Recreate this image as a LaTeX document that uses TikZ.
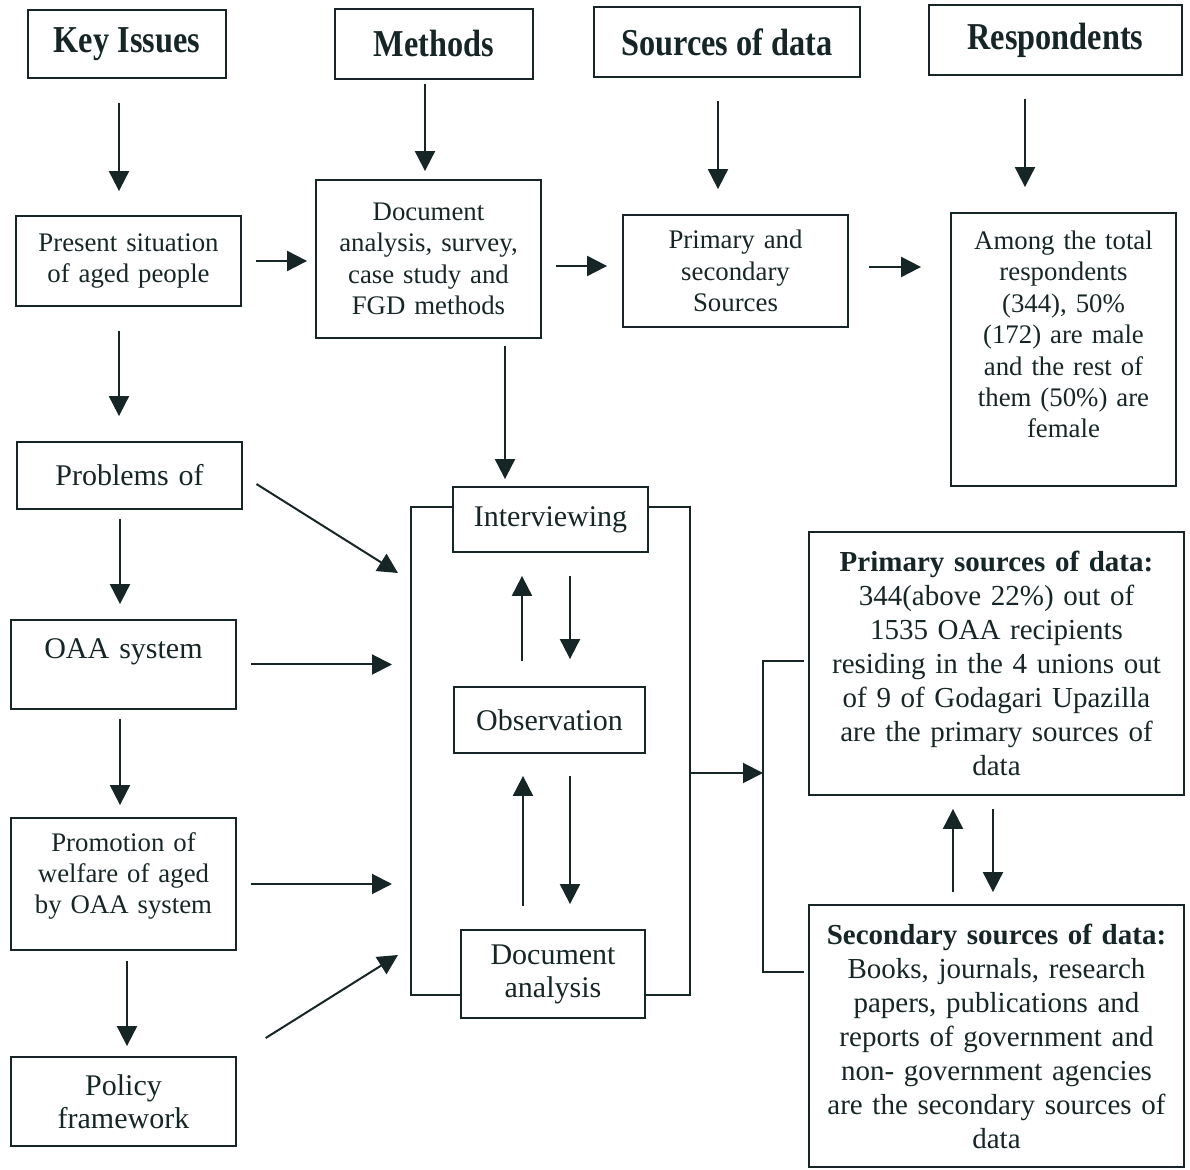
\documentclass[tikz,border=0pt]{standalone}
\usepackage{fontspec}
\setmainfont{Liberation Serif}
\newfontfamily\headfont[FakeStretch=0.85]{Liberation Serif}
\usepackage{xcolor}
\usepackage{tikz}
\usetikzlibrary{arrows.meta}
\definecolor{ink}{RGB}{22,38,38}
\newcommand{\smallbody}{\fontsize{13.4}{15.7}\selectfont}
\newcommand{\bigbody}{\fontsize{15}{16.5}\selectfont}
\newcommand{\sidebody}{\fontsize{14.5}{17}\selectfont}

\begin{document}
\begin{tikzpicture}[x=0.5pt, y=-0.5pt]
      \tikzstyle{block} = [rectangle, draw=ink, line width=0.9pt, text=ink, text centered, inner xsep=0pt, inner ysep=0pt, font=\smallbody]
      \tikzstyle{head} = [block, font=\headfont\bfseries\fontsize{19}{22}\selectfont]
      \tikzstyle{arrow} = [draw=ink, line width=1pt, -{Triangle[width=10pt,length=10pt]}]
      \tikzstyle{link} = [draw=ink, line width=0.9pt]
      \useasboundingbox (0,0) rectangle (1190,1170);
      % column heads
      \node[head, minimum width=99pt, minimum height=34pt] (key) at (127,44) {Key Issues};
      \node[head, minimum width=99pt, minimum height=35pt] (meth) at (434,44) {Methods};
      \node[head, minimum width=133pt, minimum height=35pt] (src) at (727,42) {Sources of data};
      \node[head, minimum width=126.5pt, minimum height=35pt] (resp) at (1055.5,40) {Respondents};
      % second row
      \node[block, text width=112.5pt, minimum height=45pt] (pres) at (128.5,261) {Present situation\\of aged people};
      \node[block, text width=112.5pt, minimum height=79pt] (docm) at (428.5,259) {Document\\analysis, survey,\\case study and\\FGD methods};
      \node[block, text width=112.5pt, minimum height=56pt] (prim) at (735.5,271) {Primary and\\secondary\\Sources};
      \node[block, text width=112.5pt, minimum height=136.5pt] (among) at (1063.5,349.5) {Among the total\\respondents\\(344), 50\%\\(172) are male\\and the rest of\\them (50\%) are\\female\par\vspace*{15pt}};
      % key issues column
      \node[block, font=\bigbody, text width=112.5pt, minimum height=33.5pt] (prob) at (129.5,475.5) {Problems of};
      \node[block, font=\bigbody, text width=112.5pt, minimum height=44.5pt] (oaa) at (123.5,664.5) {OAA system\par\vspace*{13pt}};
      \node[block, text width=112.5pt, minimum height=66pt] (prom) at (123.5,884) {Promotion of\\welfare of aged\\by OAA system\par\vspace*{8pt}};
      \node[block, font=\bigbody, text width=112.5pt, minimum height=44.5pt] (pol) at (123.5,1101.5) {Policy\\framework};
      % methods column
      \node[block, font=\bigbody, text width=97.5pt, minimum height=32.5pt] (intv) at (550.5,519.5) {Interviewing};
      \node[block, font=\bigbody, text width=95.5pt, minimum height=33pt] (obs) at (549.5,720) {Observation};
      \node[block, font=\bigbody, text width=92pt, minimum height=44pt] (doca) at (553,974) {Document\\analysis};
      % sources
      \node[block, font=\sidebody, text width=187.5pt, minimum height=131.5pt] (psrc) at (996.5,663.5) {\textbf{Primary sources of data:}\\344(above 22\%) out of\\1535 OAA recipients\\residing in the 4 unions out\\of 9 of Godagari Upazilla\\are the primary sources of\\data};
      \node[block, font=\sidebody, text width=187.5pt, minimum height=131pt] (ssrc) at (996.5,1036) {\textbf{Secondary sources of data:}\\Books, journals, research\\papers, publications and\\reports of government and\\non- government agencies\\are the secondary sources of\\data};
      % bracket points
      \coordinate (bl) at (411,0);
      \coordinate (br) at (690,0);
      \coordinate (il) at ([yshift=6.25pt]intv.west);
      \coordinate (ir) at ([yshift=6.25pt]intv.east);
      \coordinate (dl) at ([yshift=-10.5pt]doca.west);
      \coordinate (dr) at ([yshift=-10.5pt]doca.east);
      \coordinate (rb) at (763,773);
      \coordinate (pl) at ([shift={(-2pt,1.25pt)}]psrc.west);
      \coordinate (sl) at ([shift={(-2pt,32pt)}]ssrc.west);
      \coordinate (inA) at (398,573);
      \coordinate (inD) at (398,955);
      \draw[link] (il) -| (bl |- dl) -- (dl);
      \draw[link] (ir) -| (br |- dr) -- (dr);
      \draw[arrow] (br |- rb) -- (rb);
      \draw[link] (pl) -| (rb |- sl) -- (sl);
      % heads down
      \draw[arrow, shorten <=12pt, shorten >=12pt] ([xshift=-4pt]key.south) -- ([xshift=-4pt]key.south |- pres.north);
      \draw[arrow, shorten <=2pt, shorten >=4pt] ([xshift=-4.5pt]meth.south) -- ([xshift=-4.5pt]meth.south |- docm.north);
      \draw[arrow, shorten <=11.5pt, shorten >=12.5pt] ([xshift=-4.5pt]src.south) -- ([xshift=-4.5pt]src.south |- prim.north);
      \draw[arrow, shorten <=11.5pt, shorten >=12.5pt] ([xshift=-15.25pt]resp.south) -- ([xshift=-15.25pt]resp.south |- among.north);
      % across second row
      \draw[arrow, shorten <=7pt, shorten >=4pt] (pres.east) -- (pres.east -| docm.west);
      \draw[arrow, shorten <=7pt, shorten >=7.5pt] ([yshift=-3.5pt]docm.east) -- ([yshift=-3.5pt]docm.east -| prim.west);
      \draw[arrow, shorten <=10pt, shorten >=14.5pt] ([yshift=2pt]prim.east) -- ([yshift=2pt]prim.east -| among.west);
      % left column
      \draw[arrow, shorten <=12pt, shorten >=12.5pt] ([xshift=-4.75pt]pres.south) -- ([xshift=-4.75pt]pres.south |- prob.north);
      \draw[arrow, shorten <=4.5pt, shorten >=7.5pt] ([xshift=-4.75pt]prob.south) -- ([xshift=-4.75pt]prob.south |- oaa.north);
      \draw[arrow, shorten <=4.5pt, shorten >=6pt] ([xshift=-1.75pt]oaa.south) -- ([xshift=-1.75pt]oaa.south |- prom.north);
      \draw[arrow, shorten <=5pt, shorten >=5pt] ([xshift=1.75pt]prom.south) -- ([xshift=1.75pt]prom.south |- pol.north);
      \draw[arrow, shorten <=8pt] (prob.east) -- (inA);
      \draw[arrow, shorten <=7pt, shorten >=9.5pt] (oaa.east) -- (oaa.east -| bl);
      \draw[arrow, shorten <=7pt, shorten >=9.5pt] (prom.east) -- (prom.east -| bl);
      \draw[arrow, shorten <=17pt] (pol.north east) -- (inD);
      % methods column
      \draw[arrow, shorten <=3.5pt, shorten >=3.5pt] ([xshift=38.25pt]docm.south) -- ([xshift=38.25pt]docm.south |- intv.north);
      \draw[arrow, shorten <=12.5pt, shorten >=11.5pt] ([xshift=-13.75pt]obs.north) -- ([xshift=-13.75pt]obs.north |- intv.south);
      \draw[arrow, shorten <=11.5pt, shorten >=13.5pt] ([xshift=9.75pt]intv.south) -- ([xshift=9.75pt]intv.south |- obs.north);
      \draw[arrow, shorten <=11.5pt, shorten >=11pt] ([xshift=-15pt]doca.north) -- ([xshift=-15pt]doca.north |- obs.south);
      \draw[arrow, shorten <=11pt, shorten >=12.5pt] ([xshift=10.25pt]obs.south) -- ([xshift=10.25pt]obs.south |- doca.north);
      % sources pair
      \draw[arrow, shorten <=6pt, shorten >=6.5pt] ([xshift=-21.75pt]ssrc.north) -- ([xshift=-21.75pt]ssrc.north |- psrc.south);
      \draw[arrow, shorten <=6.5pt, shorten >=6pt] ([xshift=-1.75pt]psrc.south) -- ([xshift=-1.75pt]psrc.south |- ssrc.north);
    \end{tikzpicture}
\end{document}
